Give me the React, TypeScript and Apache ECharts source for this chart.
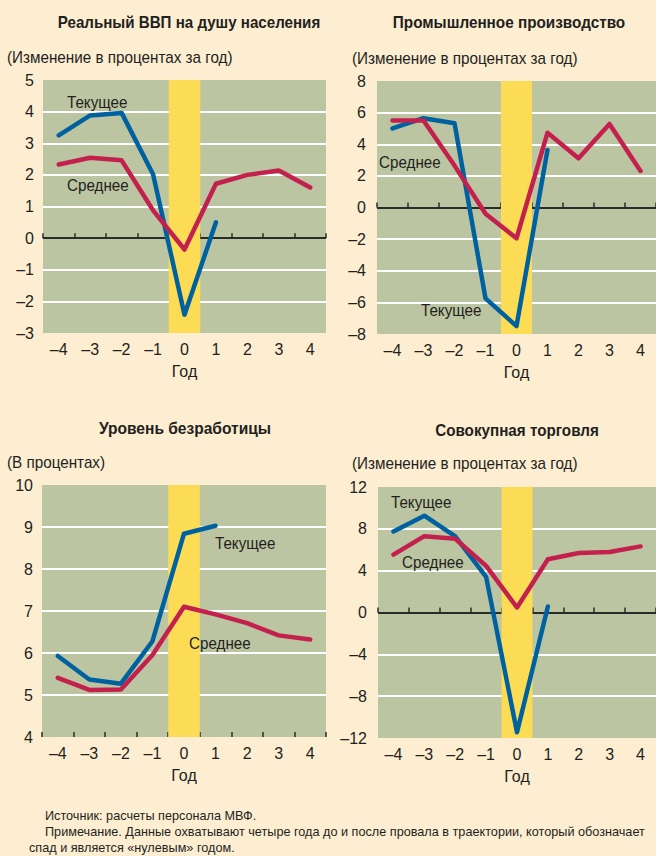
import React, { useEffect, useRef } from "react";
import * as echarts from "echarts";

const years = ["-4", "-3", "-2", "-1", "0", "1", "2", "3", "4"];

const gdpCurrent = [3.25, 3.88, 3.96, 2.02, -2.42, 0.5, null, null, null];
const gdpAverage = [2.33, 2.54, 2.46, 0.88, -0.36, 1.72, 2.0, 2.14, 1.6];

const indCurrent = [5.0, 5.65, 5.33, -5.75, -7.5, 3.64, null, null, null];
const indAverage = [5.5, 5.5, 2.65, -0.4, -1.95, 4.73, 3.11, 5.28, 2.31];

const unempCurrent = [5.93, 5.37, 5.27, 6.28, 8.84, 9.03, null, null, null];
const unempAverage = [5.41, 5.12, 5.13, 5.95, 7.1, 6.92, 6.71, 6.42, 6.32];

const tradeCurrent = [7.74, 9.26, 7.27, 3.41, -11.45, 0.57, null, null, null];
const tradeAverage = [5.53, 7.3, 7.05, 4.46, 0.48, 5.09, 5.69, 5.78, 6.32];

const panelTitles = [
  "Реальный ВВП на душу населения",
  "Промышленное производство",
  "Уровень безработицы",
  "Совокупная торговля",
];
const panelUnits = [
  "(Изменение в процентах за год)",
  "(Изменение в процентах за год)",
  "(В процентах)",
  "(Изменение в процентах за год)",
];
const xAxisName = "Год";
const currentLabel = "Текущее";
const averageLabel = "Среднее";
const recessionYear = "0";
const footnotes = [
  "Источник: расчеты персонала МВФ.",
  "Примечание. Данные охватывают четыре года до и после провала в траектории, который обозначает",
  "спад и является «нулевым» годом.",
];

const FONT = "'Liberation Sans', Arial, sans-serif";
const TEXT = "#231f20";
const BG = "#fdeed2";
const PLOT = "#bcc5a2";
const YELLOW = "#fddc55";
const BLUE = "#0061a0";
const RED = "#c4204e";

export default function App() {
  const ref = useRef<HTMLDivElement>(null);

  useEffect(() => {
    document.body.style.margin = "0";
    const chart = echarts.init(ref.current!, null, { renderer: "svg" });

    const grids = [
      { left: 43, top: 80, width: 283, height: 253 },
      { left: 377, top: 81, width: 281, height: 253 },
      { left: 42, top: 485, width: 284, height: 252 },
      { left: 378, top: 487, width: 281, height: 251 },
    ];
    const yCfg = [
      { min: -3, max: 5, interval: 1 },
      { min: -8, max: 8, interval: 2 },
      { min: 4, max: 10, interval: 1 },
      { min: -12, max: 12, interval: 4 },
    ];
    const seriesData = [
      [gdpCurrent, gdpAverage],
      [indCurrent, indAverage],
      [unempCurrent, unempAverage],
      [tradeCurrent, tradeAverage],
    ];

    const splitColors = (c: { min: number; max: number; interval: number }) => {
      const out: string[] = [];
      for (let v = c.min; v <= c.max + 1e-9; v += c.interval) {
        if (v === c.min || Math.abs(v - c.max) < 1e-9) out.push("rgba(0,0,0,0)");
        else if (Math.abs(v) < 1e-9) out.push("#2b2b2b");
        else out.push("#ffffff");
      }
      return out;
    };

    const dash = (v: string) => String(v).replace("-", "\u2013");

    const xAxes = grids.map((_, i) => ({
      type: "category",
      gridIndex: i,
      data: years,
      boundaryGap: true,
      position: "bottom",
      axisLine: { show: false },
      axisTick: { show: true, inside: true, length: 5, lineStyle: { color: "#2b2b2b", width: 1.5 } },
      axisLabel: { color: TEXT, fontSize: 16, fontFamily: FONT, margin: 8, formatter: dash },
      splitLine: { show: false },
      name: xAxisName,
      nameLocation: "middle",
      nameGap: 30,
      nameTextStyle: { color: TEXT, fontSize: 16, fontFamily: FONT },
    }));

    const yAxes = grids.map((_, i) => ({
      type: "value",
      gridIndex: i,
      min: yCfg[i].min,
      max: yCfg[i].max,
      interval: yCfg[i].interval,
      axisLine: { show: false },
      axisTick: { show: false },
      axisLabel: {
        color: TEXT,
        fontSize: 16,
        fontFamily: FONT,
        margin: i % 2 === 0 ? 9 : 11,
        formatter: (v: number) => dash(String(v)),
      },
      splitLine: { show: true, lineStyle: { color: splitColors(yCfg[i]), width: 2 } },
    }));

    const series: any[] = [];
    grids.forEach((_, i) => {
      series.push({
        type: "custom",
        xAxisIndex: i,
        yAxisIndex: i,
        silent: true,
        z: 2,
        data: [[recessionYear, yCfg[i].max]],
        renderItem: (params: any, api: any) => {
          const cs = params.coordSys;
          const center = api.coord([api.value(0), api.value(1)]);
          const w = api.size([1, 0])[0];
          return {
            type: "rect",
            shape: { x: center[0] - w / 2, y: cs.y, width: w, height: cs.height },
            style: { fill: YELLOW },
          };
        },
      });
      const [cur, avg] = seriesData[i];
      series.push({
        type: "line",
        xAxisIndex: i,
        yAxisIndex: i,
        data: cur,
        symbol: "none",
        z: 3,
        lineStyle: { color: BLUE, width: 4.5, cap: "round", join: "round" },
      });
      series.push({
        type: "line",
        xAxisIndex: i,
        yAxisIndex: i,
        data: avg,
        symbol: "none",
        z: 4,
        lineStyle: { color: RED, width: 4.5, cap: "round", join: "round" },
      });
    });

    const titlePos = [
      [189, 22],
      [509, 22],
      [185, 428],
      [517, 430],
    ];
    const titleScale = [0.89, 0.9, 0.915, 0.895];
    const unitPos = [
      [7, 57],
      [352, 58],
      [7, 462],
      [352, 463],
    ];
    const seriesLabelPos = [
      { cur: [67, 102], avg: [67, 185] },
      { cur: [421, 310], avg: [379, 162] },
      { cur: [215, 543], avg: [189, 643] },
      { cur: [391, 502], avg: [402, 562] },
    ];

    const graphic: any[] = [];
    const txt = (text: string, x: number, y: number, font: string, sx: number, align = "left") => ({
      type: "text",
      x,
      y,
      scaleX: sx,
      z: 10,
      style: { text, fill: TEXT, font, textAlign: align, textVerticalAlign: "middle" },
    });
    panelTitles.forEach((t, i) => {
      graphic.push(txt(t, titlePos[i][0], titlePos[i][1], `bold 17px ${FONT}`, titleScale[i], "center"));
      graphic.push(txt(panelUnits[i], unitPos[i][0], unitPos[i][1], `16px ${FONT}`, 0.953));
      graphic.push(txt(currentLabel, seriesLabelPos[i].cur[0], seriesLabelPos[i].cur[1], `16px ${FONT}`, 0.95));
      graphic.push(txt(averageLabel, seriesLabelPos[i].avg[0], seriesLabelPos[i].avg[1], `16px ${FONT}`, 0.95));
    });
    const footPos = [
      [45, 815],
      [45, 831],
      [29, 847],
    ];
    footnotes.forEach((t, i) => {
      graphic.push(txt(t, footPos[i][0], footPos[i][1], `13px ${FONT}`, 0.975));
    });

    chart.setOption({
      animation: false,
      backgroundColor: BG,
      textStyle: { fontFamily: FONT },
      grid: grids.map((g) => ({ ...g, show: true, backgroundColor: PLOT, borderWidth: 0, containLabel: false })),
      xAxis: xAxes,
      yAxis: yAxes,
      series,
      graphic,
    });

    return () => chart.dispose();
  }, []);

  return <div ref={ref} style={{ width: 656, height: 856, position: "absolute", left: 0, top: 0 }} />;
}
